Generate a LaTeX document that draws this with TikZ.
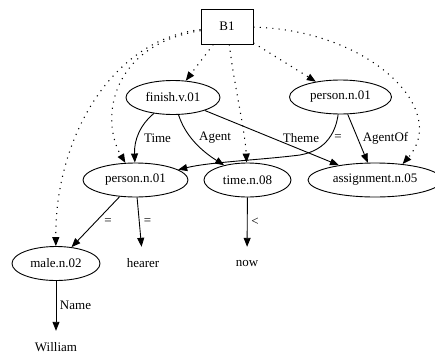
\documentclass[tikz,border=0pt]{standalone}
\usepackage{fontspec}
\setmainfont{Liberation Serif}
\usetikzlibrary{shapes.geometric,arrows.meta}
\begin{document}
\begin{tikzpicture}[x=1pt,y=-1pt,
  every node/.style={font=\fontsize{13}{15}\selectfont},
  box/.style={draw,rectangle,minimum width=52pt,minimum height=35pt,inner sep=0pt,line width=0.9pt},
  ell/.style={draw,ellipse,minimum height=34pt,inner sep=0pt,line width=0.9pt},
  plain/.style={inner sep=0pt,minimum height=32pt},
  lbl/.style={inner sep=0pt},
  edge/.style={line width=0.9pt,-{Triangle[length=9pt,width=7pt]}},
  dotedge/.style={edge,line width=1.1pt,dash pattern=on 1.1pt off 5.2pt}]
\useasboundingbox (0,0) rectangle (435,356);

% nodes
\node[box] (b1) at (227,26.5) {B1};
\node[ell,minimum width=94pt] (finish) at (173,97.5) {finish.v.01};
\node[ell,minimum width=102pt] (pr) at (340.5,97) {person.n.01};
\node[ell,minimum width=105pt] (pl) at (135.5,180) {person.n.01};
\node[ell,minimum width=87pt] (time) at (247.5,180) {time.n.08};
\node[ell,minimum width=134pt] (assign) at (375,180) {assignment.n.05};
\node[ell,minimum width=88pt] (male) at (56,263.5) {male.n.02};
\node[plain] (hearer) at (143,263) {hearer};
\node[plain] (now) at (247,263) {now};
\node[plain] (william) at (56,347) {William};

% dotted edges from the box
\draw[dotedge] (b1) -- (finish);
\draw[dotedge] (b1) -- (pr);
\draw[dotedge] (b1) .. controls (235,90) and (245,130) .. (time);
\draw[dotedge] (b1) .. controls (370,30) and (450,110) .. (assign.30);
\draw[dotedge] (b1) .. controls (110,45) and (100,120) .. (pl);
\draw[dotedge] (b1) .. controls (110,40) and (55,140) .. (male);

% solid edges
\draw[edge] (finish) .. controls (140,125) and (134,140) .. (pl);
\draw[edge] (finish) .. controls (185,135) and (200,150) .. (time);
\draw[edge] (finish) -- (assign);
\draw[edge] (pr) .. controls (336,130) and (328,150) .. (300,155)
                 .. controls (260,160) and (210,162) .. (pl);
\draw[edge] (pr) -- (assign);
\draw[edge] (pl) -- (male);
\draw[edge] (pl) -- (hearer);
\draw[edge] (time) -- (now);
\draw[edge] (male) -- (william);

% edge labels
\node[lbl] (lTime) at (157.5,138) {Time};
\node[lbl] (lAgent) at (215,138) {Agent};
\node[lbl] (lTheme) at (301,138) {Theme};
\node[lbl] (lEq1) at (338,138) {=};
\node[lbl] (lAgentOf) at (385.5,138) {AgentOf};
\node[lbl] (lEq2) at (108,221.5) {=};
\node[lbl] (lEq3) at (147.5,221.5) {=};
\node[lbl] (lLt) at (255,221.5) {<};
\node[lbl] (lName) at (75.5,305) {Name};
\end{tikzpicture}
\end{document}
